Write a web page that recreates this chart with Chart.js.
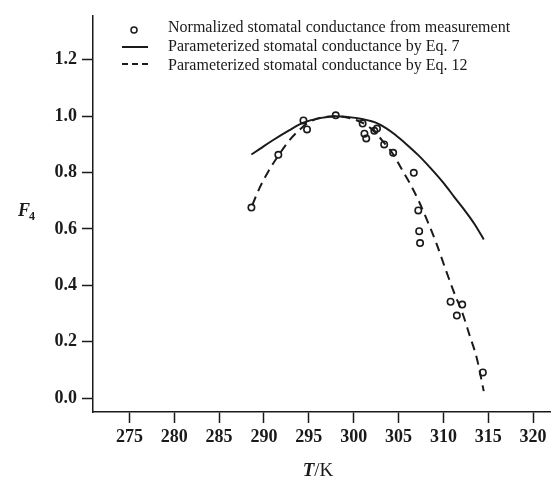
<!DOCTYPE html>
<html>
<head>
<meta charset="utf-8">
<script src="https://cdn.jsdelivr.net/npm/chart.js@4.4.1/dist/chart.umd.min.js"></script>
<style>
  body { margin: 0; background: #fff; }
  #wrap { width: 556px; height: 477px; }
</style>
</head>
<body>
<div id="wrap"><canvas id="f4Chart" width="556" height="477"></canvas></div>
<script>
// datos medidos (T en K, F4 normalizado)
var measT = [288.6, 291.6, 294.4, 294.8, 298.0, 301.0, 301.2, 301.4, 302.3, 302.6, 303.4, 304.4, 306.7, 307.2, 307.3, 307.4, 310.8, 312.1, 311.5, 314.4];
var measF = [0.676, 0.863, 0.985, 0.953, 1.003, 0.974, 0.938, 0.921, 0.948, 0.956, 0.900, 0.870, 0.799, 0.666, 0.592, 0.550, 0.342, 0.332, 0.293, 0.091];

// curva Eq. 7 (linea continua)
var eq7T = [288.6, 289.5, 290.9, 292.8, 294.4, 296.4, 298.0, 300.2, 302.4, 303.6, 304.6, 305.9, 307.2, 308.6, 310.1, 311.2, 312.4, 313.5, 314.5];
var eq7F = [0.864, 0.883, 0.913, 0.950, 0.977, 0.994, 1.000, 0.994, 0.978, 0.958, 0.935, 0.900, 0.862, 0.815, 0.760, 0.714, 0.665, 0.616, 0.563];

// curva Eq. 12 (linea discontinua)
var eq12T = [288.7, 289.5, 290.5, 291.6, 292.8, 293.9, 295.0, 296.4, 297.9, 299.8, 301.6, 302.7, 303.4, 304.4, 305.3, 306.3, 307.2, 308.2, 309.2, 310.1, 311.1, 312.2, 312.9, 313.7, 314.5];
var eq12F = [0.685, 0.745, 0.805, 0.860, 0.913, 0.950, 0.978, 0.995, 1.000, 0.991, 0.965, 0.932, 0.905, 0.865, 0.815, 0.760, 0.703, 0.630, 0.551, 0.470, 0.382, 0.295, 0.225, 0.145, 0.025];

var xTicks = [275, 280, 285, 290, 295, 300, 305, 310, 315, 320];
var yTicks = [0.0, 0.2, 0.4, 0.6, 0.8, 1.0, 1.2];

var legendLabels = [
    'Normalized stomatal conductance from measurement',
    'Parameterized stomatal conductance by Eq. 7',
    'Parameterized stomatal conductance by Eq. 12'
];

function pares(xs, ys) {
    return xs.map(function(x, i) { return { x: x, y: ys[i] }; });
}

var ink = '#1a1a1a';
var serif = '"Liberation Serif", "Times New Roman", serif';

// leyenda y titulos de ejes dibujados a mano
var extras = {
    id: 'extras',
    afterDraw: function(chart) {
        var ctx = chart.ctx;
        ctx.save();
        ctx.strokeStyle = ink;
        ctx.fillStyle = ink;

        // simbolos de la leyenda
        ctx.lineWidth = 1.5;
        ctx.beginPath();
        ctx.arc(134, 30, 3, 0, Math.PI * 2);
        ctx.stroke();

        ctx.lineWidth = 2;
        ctx.beginPath();
        ctx.moveTo(122, 47);
        ctx.lineTo(148, 47);
        ctx.stroke();

        ctx.setLineDash([6, 4]);
        ctx.beginPath();
        ctx.moveTo(122, 64);
        ctx.lineTo(150, 64);
        ctx.stroke();
        ctx.setLineDash([]);

        ctx.font = '16px ' + serif;
        ctx.textBaseline = 'middle';
        ctx.textAlign = 'left';
        ctx.fillText(legendLabels[0], 168, 28);
        ctx.fillText(legendLabels[1], 168, 47);
        ctx.fillText(legendLabels[2], 168, 66);

        // titulo eje y: F4
        ctx.font = 'italic bold 18px ' + serif;
        ctx.textBaseline = 'alphabetic';
        ctx.fillText('F', 18, 216);
        ctx.font = 'bold 12px ' + serif;
        ctx.fillText('4', 29, 220);

        // titulo eje x: T/K
        ctx.font = 'italic bold 19px ' + serif;
        var wT = ctx.measureText('T').width;
        ctx.font = '19px ' + serif;
        var wK = ctx.measureText('/K').width;
        var x0 = 318 - (wT + wK) / 2;
        ctx.font = 'italic bold 19px ' + serif;
        ctx.fillText('T', x0, 476);
        ctx.font = '19px ' + serif;
        ctx.fillText('/K', x0 + wT, 476);

        ctx.restore();
    }
};

var ctx = document.getElementById('f4Chart').getContext('2d');
var f4Chart = new Chart(ctx, {
    type: 'scatter',
    data: {
        datasets: [{
            label: legendLabels[0],
            data: pares(measT, measF),
            showLine: false,
            pointStyle: 'circle',
            pointRadius: 3.2,
            pointBorderWidth: 1.6,
            borderColor: ink,
            backgroundColor: 'rgba(0,0,0,0)',
            order: 0
        }, {
            label: legendLabels[1],
            data: pares(eq7T, eq7F),
            showLine: true,
            pointRadius: 0,
            borderColor: ink,
            borderWidth: 2,
            cubicInterpolationMode: 'monotone',
            order: 1
        }, {
            label: legendLabels[2],
            data: pares(eq12T, eq12F),
            showLine: true,
            pointRadius: 0,
            borderColor: ink,
            borderWidth: 2,
            borderDash: [9, 6],
            cubicInterpolationMode: 'monotone',
            order: 2
        }]
    },
    options: {
        responsive: false,
        animation: false,
        layout: { padding: { top: 10, right: 3, left: 0, bottom: 0 } },
        plugins: {
            legend: { display: false },
            tooltip: { enabled: false }
        },
        scales: {
            x: {
                type: 'linear',
                min: 270.94,
                max: 321.93,
                afterBuildTicks: function(scale) {
                    scale.ticks = xTicks.map(function(v) { return { value: v }; });
                },
                afterFit: function(scale) { scale.height = 65; },
                grid: {
                    drawOnChartArea: false,
                    drawTicks: true,
                    tickLength: 11,
                    tickColor: ink,
                    tickWidth: 1.5
                },
                border: { display: true, color: ink, width: 1.5 },
                ticks: {
                    color: ink,
                    padding: 4,
                    maxRotation: 0,
                    font: { family: serif, size: 18, weight: 'bold' }
                }
            },
            y: {
                type: 'linear',
                min: -0.049,
                max: 1.356,
                afterBuildTicks: function(scale) {
                    scale.ticks = yTicks.map(function(v) { return { value: v }; });
                },
                afterFit: function(scale) { scale.width = 93; },
                grid: {
                    drawOnChartArea: false,
                    drawTicks: true,
                    tickLength: 11,
                    tickColor: ink,
                    tickWidth: 1.5
                },
                border: { display: true, color: ink, width: 1.5 },
                ticks: {
                    color: ink,
                    padding: 5,
                    font: { family: serif, size: 18, weight: 'bold' },
                    callback: function(v) { return v.toFixed(1); }
                }
            }
        }
    },
    plugins: [extras]
});
</script>
</body>
</html>
